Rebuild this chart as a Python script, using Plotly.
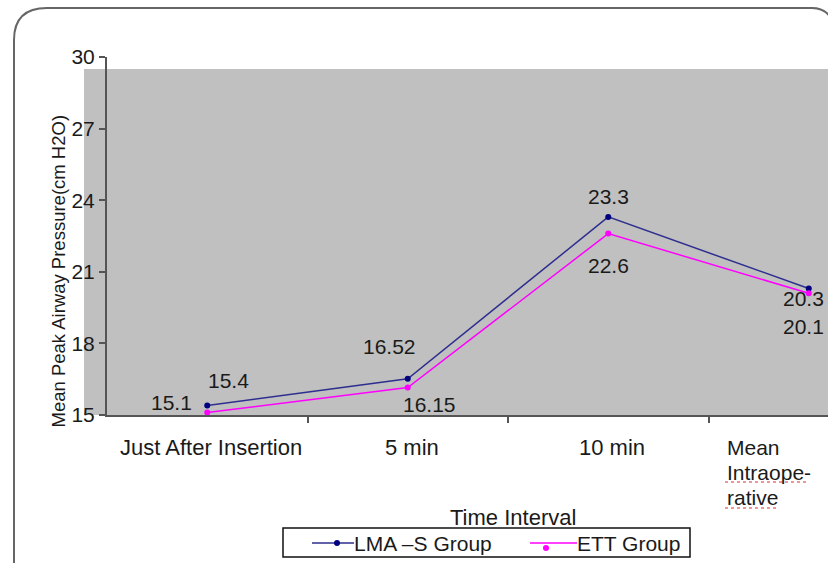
import plotly.graph_objects as go

categories = ["Just After Insertion", "5 min", "10 min", "Mean Intraope-rative"]
lma_s = [15.4, 16.52, 23.3, 20.3]
ett = [15.1, 16.15, 22.6, 20.1]
y_ticks = [15, 18, 21, 24, 27, 30]
series_names = ["LMA \u2013S Group", "ETT Group"]

FONT = "Liberation Sans, Arial, sans-serif"
TXT = "#1a1a1a"
LMA_LINE, LMA_MARK, ETT_COL = "#2E2E8F", "#000080", "#FF00FF"

# plot area in pixels (left, top, width, height) -> helpers for paper coords
L, T, W, H = 107, 57, 721, 358


def px(x):
    return (x - L) / W


def py(y):
    return (T + H - y) / H


xs = list(range(len(categories)))

fig = go.Figure()
fig.add_trace(go.Scatter(
    x=xs, y=lma_s, mode="lines+markers", name=series_names[0], showlegend=False,
    line=dict(color=LMA_LINE, width=1.5), marker=dict(color=LMA_MARK, size=6),
    cliponaxis=False,
))
fig.add_trace(go.Scatter(
    x=xs, y=ett, mode="lines+markers", name=series_names[1], showlegend=False,
    line=dict(color=ETT_COL, width=1.5), marker=dict(color=ETT_COL, size=6),
    cliponaxis=False,
))

# value labels (pixel offsets from each point)
lma_pos = [(21, -25), (-18, -32), (0, -20), (-5, 10)]
ett_pos = [(-36, -10), (22, 17), (0, 32), (-5, 33)]
for series, offs in ((lma_s, lma_pos), (ett, ett_pos)):
    for i, v in enumerate(series):
        dx, dy = offs[i]
        fig.add_annotation(x=i, y=v, text=str(v), showarrow=False, xshift=dx, yshift=-dy,
                           font=dict(size=21, color=TXT, family=FONT))

# category labels below the x axis; the last one wraps over three lines
for i, cat in enumerate(categories[:3]):
    fig.add_annotation(x=i, y=0, xref="x", yref="paper", text=cat, showarrow=False,
                       yanchor="middle", yshift=-(447 - 415), xshift=4,
                       font=dict(size=22, color=TXT, family=FONT))
last_lines = ["Mean", "Intraope-", "rative"]
for k, part in enumerate(last_lines):
    fig.add_annotation(x=3, y=0, xref="x", yref="paper", text=part, showarrow=False,
                       xanchor="left", yanchor="middle", yshift=-(447 + 25 * k - 415),
                       xshift=-84, font=dict(size=21, color=TXT, family=FONT))
# red squiggles under the hyphenated word
for x0, x1, yy in ((725, 806, 482), (725, 779, 508)):
    fig.add_shape(type="line", xref="paper", yref="paper",
                  x0=px(x0), x1=px(x1), y0=py(yy), y1=py(yy),
                  line=dict(color="#E03030", width=1.2, dash="dot"))

fig.add_annotation(x=px(513), y=py(517), xref="paper", yref="paper",
                   text="Time Interval", showarrow=False, yanchor="middle",
                   font=dict(size=22, color=TXT, family=FONT))

fig.add_annotation(x=px(45), y=py(271), xref="paper", yref="paper",
                   text="Mean Peak Airway Pressure(cm H2O)", showarrow=False, textangle=-90,
                   font=dict(size=18.5, color=TXT, family=FONT))

# legend drawn as a boxed row
fig.add_shape(type="rect", xref="paper", yref="paper",
              x0=px(283), x1=px(690), y0=py(557), y1=py(528),
              fillcolor="white", line=dict(color="#111111", width=1.5))
legend_items = [
    (series_names[0], LMA_LINE, LMA_MARK, 312, 354, 337, 543, 0, 352),
    (series_names[1], ETT_COL, ETT_COL, 530, 577, 546, 543, 5, 575),
]
for name, lc, mc, x0, x1, mx, ly, mdy, tx in legend_items:
    fig.add_shape(type="line", xref="paper", yref="paper",
                  x0=px(x0), x1=px(x1), y0=py(ly), y1=py(ly),
                  line=dict(color=lc, width=1.5))
    fig.add_shape(type="circle", xref="paper", yref="paper",
                  x0=px(mx - 3), x1=px(mx + 3), y0=py(ly + mdy + 3), y1=py(ly + mdy - 3),
                  fillcolor=mc, line=dict(color=mc, width=0))
    fig.add_annotation(x=px(tx), y=py(543), xref="paper", yref="paper", text=name,
                       showarrow=False, xanchor="left", yanchor="middle",
                       font=dict(size=21, color=TXT, family=FONT))

# grey plot background and rounded outer frame
fig.add_shape(type="rect", xref="paper", yref="paper", layer="below",
              x0=px(84), x1=px(840), y0=py(415), y1=py(69),
              fillcolor="#C0C0C0", line=dict(width=0))
fig.add_shape(type="path", xref="paper", yref="paper", layer="below",
              path="M %f,%f L %f,%f Q %f,%f %f,%f L %f,%f Q %f,%f %f,%f" % (
                  px(14), py(600),
                  px(14), py(40),
                  px(14), py(8), px(47), py(8),
                  px(812), py(8),
                  px(826), py(8), px(832), py(20)),
              line=dict(color="#666666", width=2))

fig.update_layout(
    width=828, height=563,
    margin=dict(l=L, r=828 - L - W, t=T, b=563 - T - H),
    paper_bgcolor="white", plot_bgcolor="rgba(0,0,0,0)",
    font=dict(family=FONT, color=TXT),
    showlegend=False,
    xaxis=dict(range=[-0.5, 3.096], showgrid=False, zeroline=False,
               tickmode="array", tickvals=[0.5, 1.5, 2.5], ticktext=["", "", ""],
               ticks="outside", ticklen=6, tickwidth=2, tickcolor="#555555",
               showline=True, linecolor="#555555", linewidth=2, fixedrange=True),
    yaxis=dict(range=[15, 30], tickvals=y_ticks, showgrid=False, zeroline=False,
               ticks="outside", ticklen=6, tickwidth=2, tickcolor="#555555",
               showline=True, linecolor="#555555", linewidth=2,
               tickfont=dict(size=21, color=TXT, family=FONT), fixedrange=True),
)

fig.write_html("out.html")
